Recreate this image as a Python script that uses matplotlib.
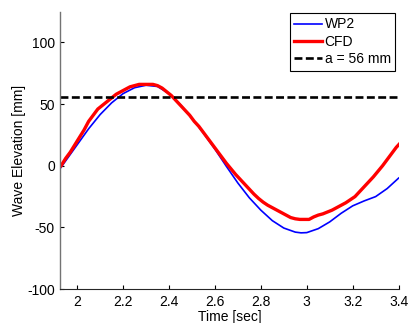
import numpy as np
import matplotlib
matplotlib.use("Agg")
import matplotlib.pyplot as plt

plt.rcParams["font.family"] = ["Liberation Sans", "DejaVu Sans"]
plt.rcParams["axes.unicode_minus"] = False  # hyphen minus like the reference

wp2_t = [1.927, 1.95, 2.0, 2.05, 2.1, 2.15, 2.2, 2.25, 2.3, 2.35, 2.4, 2.45,
         2.5, 2.55, 2.6, 2.65, 2.7, 2.75, 2.8, 2.85, 2.9, 2.95, 2.975, 3.0,
         3.05, 3.1, 3.15, 3.2, 3.25, 3.3, 3.35, 3.4]
wp2_eta = [-2, 4, 17, 30, 41.5, 51, 58.5, 63.3, 65.3, 64.3, 58.5, 49.5,
           38.5, 26.5, 13.5, -0.5, -14, -26, -36, -44.5, -50.5, -53.8, -54.4, -54.2,
           -51, -45.5, -38.5, -32.5, -28.5, -25, -18.5, -10]

# CFD result, read every 0.02 s
cfd_t = np.round(np.arange(1.93, 3.42, 0.02), 2)
cfd_eta = [0, 6, 11, 17, 23, 29, 36, 41, 46, 49,
           52, 55, 58, 60, 62, 64, 65, 66, 66, 66,
           66, 65, 63, 60, 57, 53, 49, 45, 41, 36,
           32, 27, 22, 17, 12, 7, 2, -2.5, -7, -11,
           -15, -19, -23, -26.5, -29.5, -32, -34, -36, -38, -40,
           -42, -43, -43.5, -43.5, -43.5, -41.5, -40, -39, -37.5, -36,
           -34, -32, -30, -27.5, -25, -21, -17, -13, -9, -4.5,
           0, 5, 10, 15, 19]

amp = 56  # mm

fig = plt.figure(figsize=(4.08, 3.23), dpi=100)
ax = fig.add_axes([0.148, 0.105, 0.829, 0.859])

ax.plot(wp2_t, wp2_eta, color="#0000ff", lw=1.2, label="WP2")
ax.plot(cfd_t, cfd_eta, color="#ff0000", lw=2.4, label="CFD")
ax.axhline(amp, color="black", lw=1.9, ls=(0, (3.0, 1.3)), label="a = 56 mm")

ax.set_xlim(1.927, 3.4)
ax.set_ylim(-100, 125)
ax.set_xticks([2, 2.2, 2.4, 2.6, 2.8, 3, 3.2, 3.4])
ax.set_xticklabels(["2", "2.2", "2.4", "2.6", "2.8", "3", "3.2", "3.4"])
ax.set_yticks([-100, -50, 0, 50, 100])

for s in ["top", "right"]:
    ax.spines[s].set_visible(False)
ax.spines["left"].set_color("0.45")
ax.spines["left"].set_linewidth(1.0)
ax.spines["bottom"].set_color("0.15")
ax.spines["bottom"].set_linewidth(0.8)
ax.tick_params(direction="in", length=3, width=0.8, labelsize=10, pad=4)

ax.set_xlabel("Time [sec]", fontsize=10, labelpad=1)
ax.set_ylabel("Wave Elevation [mm]", fontsize=10, labelpad=1)

leg = ax.legend(loc="upper right", bbox_to_anchor=(0.968, 0.959),
                bbox_transform=fig.transFigure, borderaxespad=0,
                fancybox=False, framealpha=1, edgecolor="black",
                fontsize=10, handlelength=2.0, handletextpad=0.2,
                borderpad=0.3, labelspacing=0.25)
leg.get_frame().set_linewidth(0.8)

fig.savefig("out.png", dpi=100)
